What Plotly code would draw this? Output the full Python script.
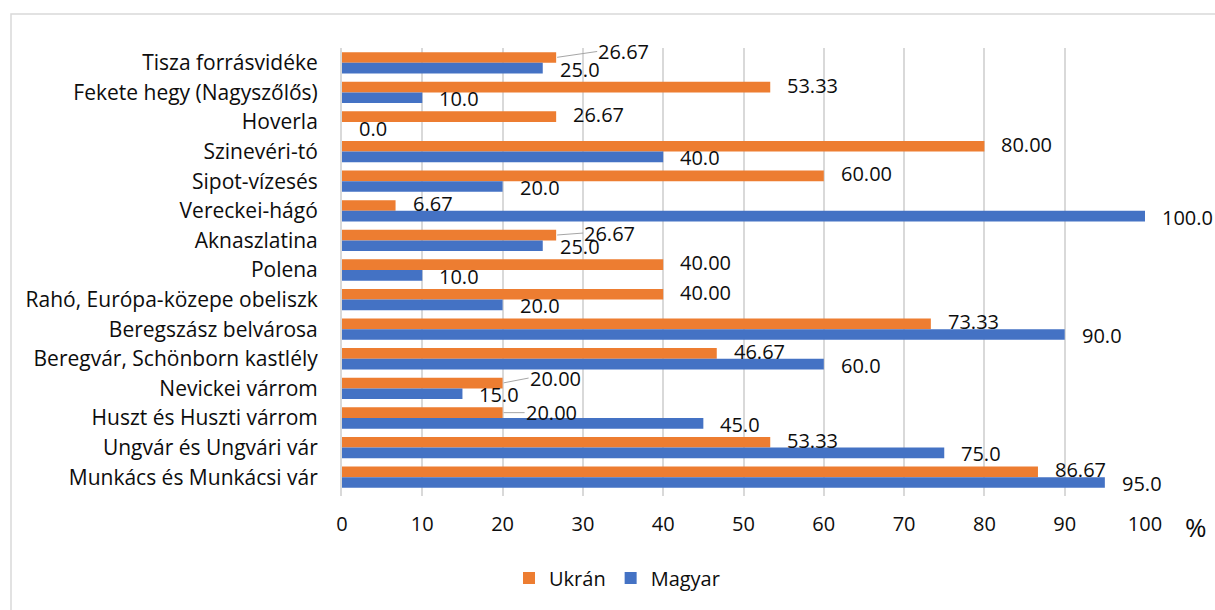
import plotly.graph_objects as go

# Attractions (top to bottom) and share of respondents (%) by group
categories = [
    "Tisza forrásvidéke",
    "Fekete hegy (Nagyszőlős)",
    "Hoverla",
    "Szinevéri-tó",
    "Sipot-vízesés",
    "Vereckei-hágó",
    "Aknaszlatina",
    "Polena",
    "Rahó, Európa-közepe obeliszk",
    "Beregszász belvárosa",
    "Beregvár, Schönborn kastlély",
    "Nevickei várrom",
    "Huszt és Huszti várrom",
    "Ungvár és Ungvári vár",
    "Munkács és Munkácsi vár",
]
ukran = [26.67, 53.33, 26.67, 80.00, 60.00, 6.67, 26.67, 40.00, 40.00,
         73.33, 46.67, 20.00, 20.00, 53.33, 86.67]
magyar = [25.0, 10.0, 0.0, 40.0, 20.0, 100.0, 25.0, 10.0, 20.0,
          90.0, 60.0, 15.0, 45.0, 75.0, 95.0]
x_ticks = [0, 10, 20, 30, 40, 50, 60, 70, 80, 90, 100]

ORANGE = "#ED7D31"
BLUE = "#4472C4"
GRID = "#d9d9d9"
TEXT = "#0d0d0d"
FONT = "Open Sans"

W, H = 1215, 610
M_L, M_R, M_T, M_B = 342, 70, 48, 114
BARGAP = 0.28
half = (1 - BARGAP) / 4  # centre offset of each bar within its group

# Labels pulled away from the bar with a leader line: (dx, dy) in px
leader = {
    "Tisza forrásvidéke": (41, -6),
    "Aknaszlatina": (27, -2),
    "Nevickei várrom": (26, -5),
    "Huszt és Huszti várrom": (22, 0),
}

fig = go.Figure()
fig.add_trace(go.Bar(y=categories, x=ukran, name="Ukrán", orientation="h",
                     marker=dict(color=ORANGE, line=dict(width=0))))
fig.add_trace(go.Bar(y=categories, x=magyar, name="Magyar", orientation="h",
                     marker=dict(color=BLUE, line=dict(width=0))))

annotations = []
label_font = dict(family=FONT, size=20, color=TEXT)
for i, cat in enumerate(categories):
    # Ukrán value labels (two decimals)
    if cat in leader:
        dx, dy = leader[cat]
        annotations.append(dict(
            x=ukran[i], y=i - half, xref="x", yref="y",
            text=f"{ukran[i]:.2f}", font=label_font,
            showarrow=True, arrowhead=0, arrowwidth=1, arrowcolor="#a6a6a6",
            ax=dx, ay=dy, xanchor="left", yanchor="middle",
            borderpad=0, standoff=1,
        ))
    else:
        annotations.append(dict(
            x=ukran[i], y=i - half, xref="x", yref="y",
            text=f"{ukran[i]:.2f}", font=label_font, showarrow=False,
            xanchor="left", yanchor="middle", xshift=16, yshift=2, borderpad=0,
        ))
    # Magyar value labels (one decimal)
    annotations.append(dict(
        x=magyar[i], y=i + half, xref="x", yref="y",
        text=f"{magyar[i]:.1f}", font=label_font, showarrow=False,
        xanchor="left", yanchor="middle", xshift=16, yshift=-1, borderpad=0,
    ))

plot_w = W - M_L - M_R
plot_h = H - M_T - M_B

# Unit sign after the value axis
annotations.append(dict(
    x=(1196 - M_L) / plot_w, y=(H - M_B - 527) / plot_h, xref="paper", yref="paper",
    text="%", showarrow=False, font=dict(family=FONT, size=26, color=TEXT),
    xanchor="center", yanchor="middle",
))

fig.update_layout(
    width=W, height=H,
    margin=dict(l=M_L, r=M_R, t=M_T, b=M_B, pad=0),
    paper_bgcolor="white", plot_bgcolor="white",
    barmode="group", bargap=BARGAP, bargroupgap=0,
    font=dict(family=FONT, size=20, color=TEXT),
    showlegend=True,
    legend=dict(orientation="h", x=(617 - M_L) / plot_w, xanchor="center",
                y=(H - M_B - 578) / plot_h, yanchor="middle",
                font=dict(family=FONT, size=20, color=TEXT),
                bgcolor="rgba(0,0,0,0)", traceorder="normal"),
    annotations=annotations,
    shapes=[dict(type="rect", xref="paper", yref="paper",
                 x0=(11 - M_L) / plot_w, x1=1.3,
                 y0=-0.4, y1=(H - M_B - 14) / plot_h,
                 line=dict(color=GRID, width=1.5), layer="below")],
)
fig.update_xaxes(range=[0, 100], tickvals=x_ticks, showgrid=True,
                 gridcolor=GRID, gridwidth=2, zeroline=False, showline=False,
                 ticks="", ticklabelstandoff=14,
                 tickfont=dict(family=FONT, size=20, color=TEXT))
fig.update_yaxes(autorange="reversed", showline=True, linecolor=GRID,
                 linewidth=2, showgrid=False, ticks="", ticklabelstandoff=18,
                 tickfont=dict(family=FONT, size=21, color=TEXT))

fig.write_html("out.html")
